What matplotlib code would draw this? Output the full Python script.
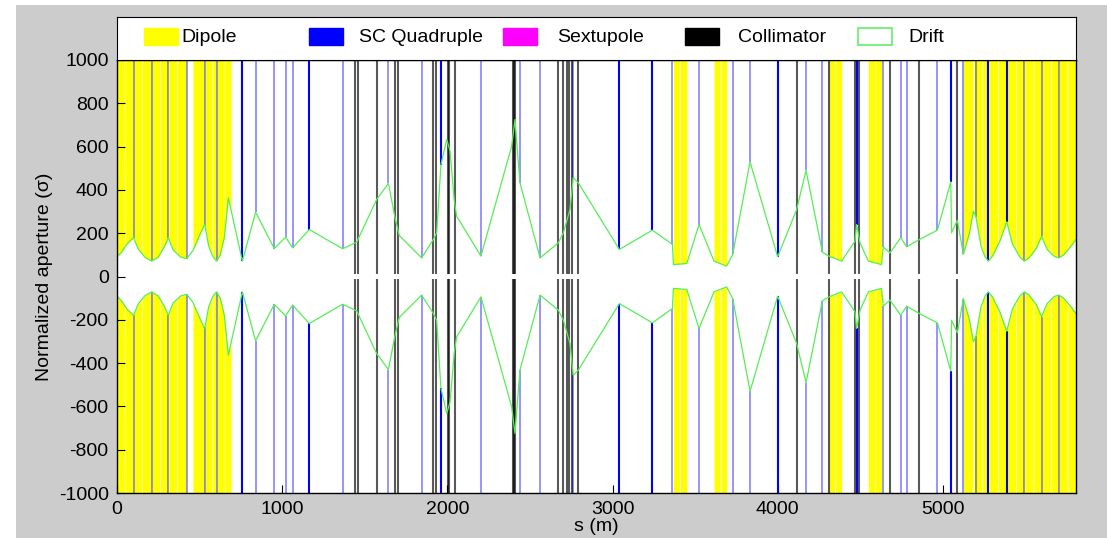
import numpy as np
import matplotlib
matplotlib.use("Agg")
import matplotlib.pyplot as plt
from matplotlib.patches import Rectangle

plt.rcParams['font.family'] = ['Liberation Sans', 'DejaVu Sans']
plt.rcParams['font.size'] = 14
plt.rcParams['axes.unicode_minus'] = False

# aperture envelope (s in m, normalized aperture in sigma), mirrored for the lower half
env_s = [0, 30, 60, 100, 130, 170, 210, 250, 285, 311, 340, 385, 422, 460, 500, 530,
         535, 555, 580, 603, 625, 650, 674,
         759, 839, 952, 1021, 1063, 1164, 1366, 1451, 1572, 1643, 1683, 1709, 1844,
         1915, 1935, 1961, 1996, 2016, 2042, 2056, 2203, 2389, 2409, 2439, 2561, 2671,
         2702, 2742, 2762, 2792, 3041, 3241, 3362, 3368, 3449, 3523, 3614, 3690, 3727,
         3832, 3999, 4114, 4171, 4270, 4310, 4386, 4467, 4477, 4498, 4548, 4628, 4638,
         4679, 4744, 4780, 4857, 4966, 5047, 5052, 5087, 5123, 5160, 5184, 5200, 5230,
         5255, 5275, 5300, 5345, 5386, 5420, 5465, 5492, 5520, 5565, 5597, 5630, 5675,
         5702, 5730, 5775, 5805]
env_a = [90, 115, 150, 179, 125, 88, 71, 90, 135, 179, 122, 90, 82, 120, 190, 240,
         225, 140, 92, 71, 100, 180, 363,
         71, 297, 129, 182, 132, 217, 128, 159, 356, 430, 271, 189, 86,
         171, 202, 517, 633, 579, 348, 279, 94, 602, 725, 433, 86, 155,
         202, 309, 456, 433, 125, 214, 148, 55, 60, 240, 71, 48, 102,
         530, 91, 309, 490, 112, 94, 71, 163, 240, 155, 71, 55, 137,
         109, 179, 137, 171, 214, 437, 202, 260, 102, 200, 302, 273, 140,
         90, 71, 95, 165, 253, 150, 90, 71, 85, 130, 186, 125, 92,
         86, 100, 140, 171]

# dipole extents (start, end) in m
dipoles = [(0, 45), (48, 97), (103, 148), (152, 207), (213, 258), (262, 308), (314, 360),
           (364, 418), (460, 530), (536, 575), (580, 600), (606, 650), (653, 690),
           (3368, 3405), (3410, 3449), (3614, 3650), (3655, 3690),
           (4310, 4345), (4350, 4386), (4548, 4588), (4592, 4628),
           (5123, 5180), (5188, 5235), (5240, 5272), (5278, 5330), (5335, 5383),
           (5390, 5440), (5445, 5490), (5495, 5545), (5550, 5595), (5600, 5650),
           (5655, 5700), (5705, 5752), (5757, 5805)]

quads = [100, 210, 311, 422, 533, 603, 839, 952, 1021, 1063, 1366, 1643, 1844, 2203,
         2439, 2561, 2762, 3362, 3523, 3727, 3832, 4171, 4270, 4638, 4744, 4780, 4966,
         5123, 5200, 5492, 5597, 5702]
quads_long = [759, 1164, 1961, 3041, 3241, 3999, 4477, 5047, 5275, 5386]

collimators = [1441, 1457, 1572, 1683, 1703, 1915, 1931, 2004, 2010, 2046, 2395, 2403,
               2409, 2671, 2698, 2722, 2738, 2754, 2792, 4114, 4310, 4467, 4493, 4679,
               4857, 5087]
coll_gap = 12

legend_labels = ['Dipole', 'SC Quadruple', 'Sextupole', 'Collimator', 'Drift']

env_s = np.array(env_s, dtype=float)
env_a = np.array(env_a, dtype=float)
ymax = 1000

fig = plt.figure(figsize=(11.07, 5.38), dpi=100)
fig.patch.set_facecolor('white')
fig.patches.append(Rectangle((16 / 1107, 0), 1, 533 / 538, transform=fig.transFigure,
                             facecolor='#cccccc', edgecolor='none', zorder=-10))

ax = fig.add_axes([117 / 1107, 45 / 538, 959 / 1107, 433 / 538])
ax.set_facecolor('white')

for a, b in dipoles:
    ss = np.linspace(a, b, 40)
    aa = np.interp(ss, env_s, env_a)
    ax.fill_between(ss, aa, ymax, color='#ffff00', lw=0, zorder=1)
    ax.fill_between(ss, -ymax, -aa, color='#ffff00', lw=0, zorder=1)

qa = np.interp(quads, env_s, env_a)
ax.vlines(quads, qa, ymax, color='#0000ff', alpha=0.45, lw=1.3, zorder=2)
ax.vlines(quads, -ymax, -qa, color='#0000ff', alpha=0.45, lw=1.3, zorder=2)
ql = np.interp(quads_long, env_s, env_a)
ax.vlines(quads_long, ql, ymax, color='#0000ff', lw=1.5, zorder=2)
ax.vlines(quads_long, -ymax, -ql, color='#0000ff', lw=1.5, zorder=2)

ax.vlines(collimators, coll_gap, ymax, color='black', alpha=0.65, lw=1.5, zorder=3)
ax.vlines(collimators, -ymax, -coll_gap, color='black', alpha=0.65, lw=1.5, zorder=3)

ax.plot(env_s, env_a, color='#55ee55', lw=0.9, zorder=4)
ax.plot(env_s, -env_a, color='#55ee55', lw=0.9, zorder=4)

ax.set_xlim(0, 5805)
ax.set_ylim(-1000, 1000)
ax.set_xticks([0, 1000, 2000, 3000, 4000, 5000])
ax.set_yticks(np.arange(-1000, 1001, 200))
ax.tick_params(direction='in', length=6, width=0.8, pad=6, colors='black')
ax.set_xlabel('s (m)', labelpad=0)
ax.set_ylabel('Normalized aperture (\u03c3)', labelpad=4)
for sp in ax.spines.values():
    sp.set_linewidth(1.0)
    sp.set_zorder(6)

# legend box sitting on top of the axes
lax = fig.add_axes([117 / 1107, 478 / 538, 959 / 1107, 43 / 538])
lax.set_xlim(117, 1076)
lax.set_ylim(60, 17)
lax.set_xticks([])
lax.set_yticks([])
lax.set_facecolor('white')
patch_x = [144, 309, 503, 685, 858]
text_x = [181, 359, 557, 738, 908]
styles = [dict(facecolor='#ffff00', edgecolor='#ffff00'),
          dict(facecolor='#0000ff', edgecolor='#0000ff'),
          dict(facecolor='#ff00ff', edgecolor='#ff00ff'),
          dict(facecolor='black', edgecolor='black'),
          dict(facecolor='white', edgecolor='#66ee66', lw=1.2)]
for px, tx, lab, st in zip(patch_x, text_x, legend_labels, styles):
    lax.add_patch(Rectangle((px, 28), 34, 17, **st))
    lax.text(tx, 37, lab, va='center', ha='left', fontsize=14)

fig.savefig('out.png', dpi=100, facecolor=fig.get_facecolor())
